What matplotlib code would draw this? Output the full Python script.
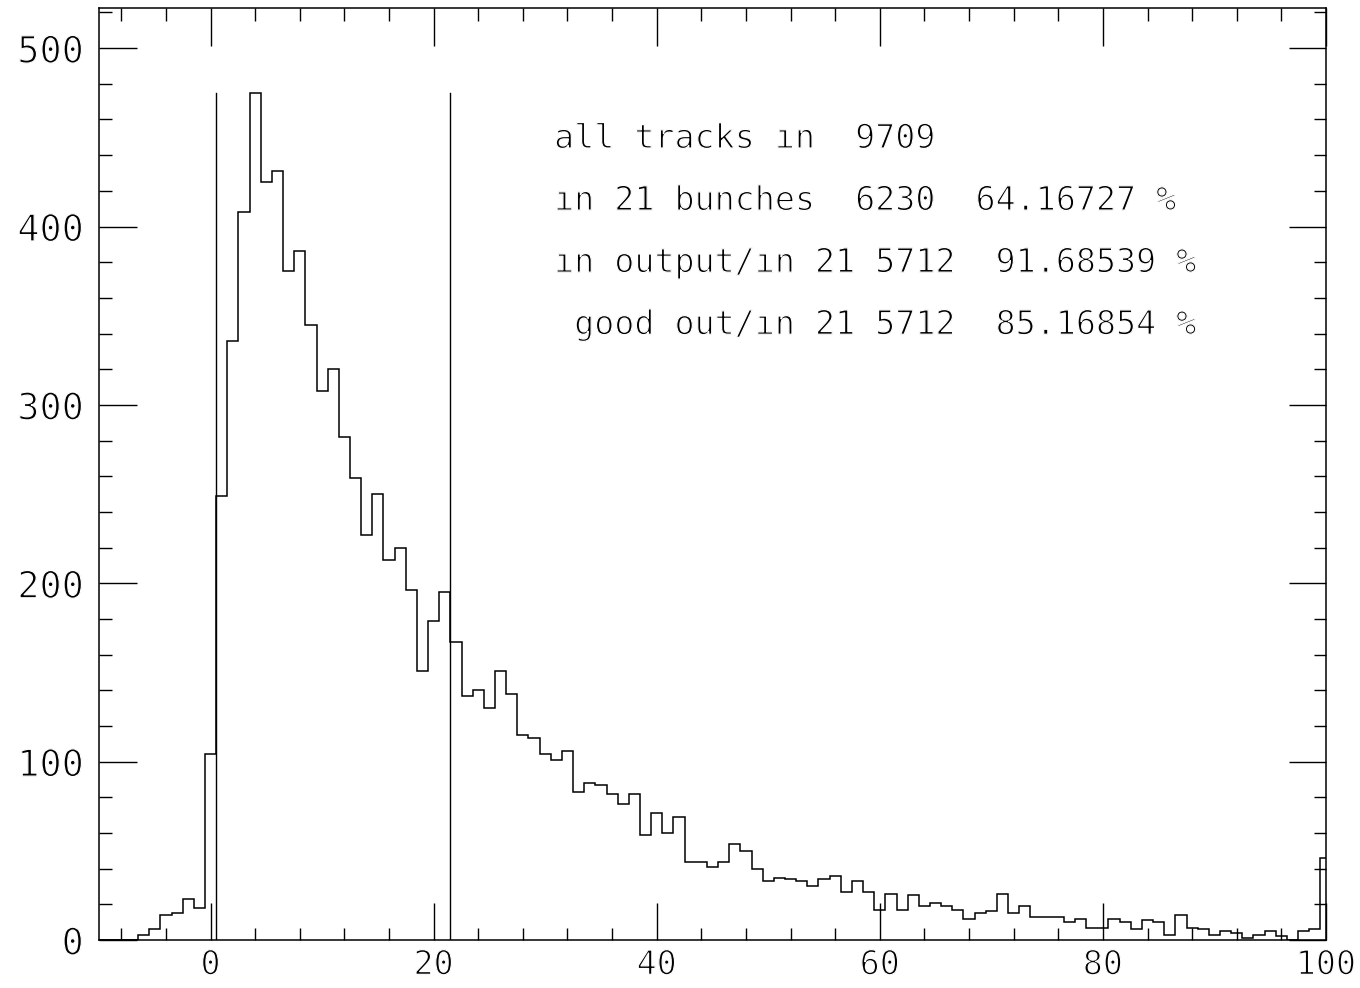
import matplotlib
matplotlib.use("Agg")
import matplotlib.pyplot as plt
import matplotlib.patheffects as pe
import numpy as np
from matplotlib.ticker import MultipleLocator

# ---- data ----
bin_centers = list(range(-10, 101))
counts = [0, 0, 0, 0, 3, 6, 14, 15, 23, 18,
          104, 249, 336, 408, 475, 425, 431, 375, 386, 345,
          308, 320, 282, 259, 227, 250, 213, 220, 196, 151,
          179, 195, 167, 137, 140, 130, 151, 138, 115, 113,
          104, 101, 106, 83, 88, 87, 82, 76, 82, 59,
          71, 60, 69, 44, 44, 41, 44, 54, 50, 40,
          33, 35, 34, 33, 30, 34, 36, 27, 33, 27,
          17, 26, 17, 25, 19, 21, 19, 17, 12, 15,
          16, 26, 15, 19, 13, 13, 13, 10, 12, 7,
          7, 12, 10, 6, 11, 10, 3, 14, 7, 6,
          3, 5, 4, 1, 3, 5, 2, 0, 5, 6,
          46]
cut_lines = [0.5, 21.5]
x_ticks = [0, 20, 40, 60, 80, 100]
y_ticks = [0, 100, 200, 300, 400, 500]
info_lines = [
    "all tracks \u0131n  9709",
    "\u0131n 21 bunches  6230  64.16727 %",
    "\u0131n output/\u0131n 21 5712  91.68539 %",
    " good out/\u0131n 21 5712  85.16854 %",
]

thin = [pe.Normal(), pe.Stroke(linewidth=0.9, foreground="white")]

fig = plt.figure(figsize=(13.6, 9.88), dpi=100)
ax = fig.add_axes([99/1360, 1 - 940/988, (1326 - 99)/1360, (940 - 8)/988])

centers = np.array(bin_centers, dtype=float)
edges = np.concatenate([centers - 0.5, [centers[-1] + 0.5]])
ax.stairs(counts, edges, color="black", lw=1.1, baseline=None)
ax.plot([edges[0], edges[4]], [0, 0], color="black", lw=1.1)

ymax_line = max(counts)
for xc in cut_lines:
    ax.plot([xc, xc], [0, ymax_line], color="black", lw=1.0)

ax.set_xlim(-10, 100)
ax.set_ylim(0, max(counts) * 1.1)

ax.set_xticks(x_ticks)
ax.set_yticks(y_ticks)
ax.xaxis.set_minor_locator(MultipleLocator(4))
ax.yaxis.set_minor_locator(MultipleLocator(20))
ax.tick_params(axis="both", which="both", direction="in", top=True, right=True,
               width=1.0, color="black")
ax.tick_params(axis="both", which="major", length=27)
ax.tick_params(axis="y", which="major", labelsize=26.5, pad=11)
ax.tick_params(axis="x", which="major", labelsize=24, pad=6)
ax.tick_params(axis="both", which="minor", length=9)
for lab in ax.get_xticklabels() + ax.get_yticklabels():
    lab.set_family("DejaVu Sans Mono")
    lab.set_path_effects(thin)
for s in ax.spines.values():
    s.set_linewidth(1.1)

y0 = 444
for i, line in enumerate(info_lines):
    ax.text(30.8, y0 - i * 34.8, line, family="DejaVu Sans Mono", fontsize=24,
            ha="left", va="baseline", color="black", path_effects=thin)

fig.savefig("out.png", dpi=100)
